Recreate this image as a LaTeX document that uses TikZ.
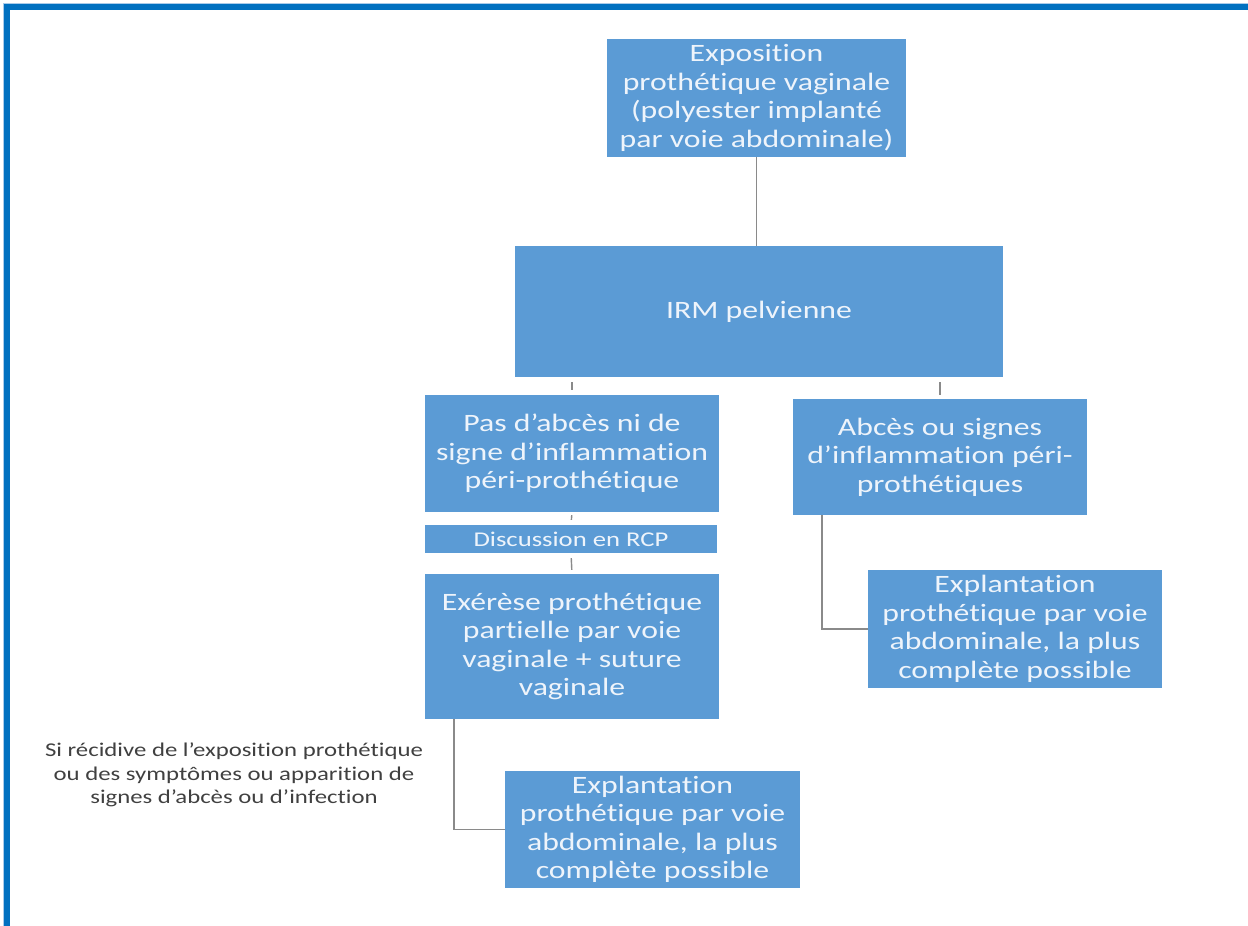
\documentclass[tikz,border=0pt]{standalone}
\usepackage{fontspec}
\setmainfont{Carlito}[FakeStretch=1.27, Ligatures={NoCommon}]
\definecolor{boxblue}{HTML}{5B9BD5}
\definecolor{frameblue}{HTML}{0070C0}
\definecolor{framelight}{HTML}{A9CBEA}
\definecolor{boxtext}{HTML}{EEF4FB}
\definecolor{linkgray}{HTML}{8A8A8A}
\definecolor{notegray}{HTML}{404040}
\tikzset{
  flowbox/.style={rectangle, fill=boxblue, text=boxtext, align=center, inner sep=0pt,
    font=\fontsize{25}{28.5}\selectfont},
  smallbox/.style={flowbox, font=\fontsize{21}{23}\selectfont},
  link/.style={draw=linkgray, line width=1.4pt},
  notetext/.style={align=center, text=notegray, inner sep=0pt, font=\fontsize{19.5}{23.5}\selectfont}
}
\begin{document}
\begin{tikzpicture}[x=1pt,y=-1pt]
\useasboundingbox (0,0) rectangle (1248,926);
% frame
\fill[framelight] (3,3) rectangle (1248,10);
\fill[framelight] (3,3) rectangle (10,926);
\fill[frameblue] (4,4) rectangle (1248,9.5);
\fill[frameblue] (4,4) rectangle (9.5,926);

\node[flowbox, minimum width=299pt, minimum height=118pt] (b1) at (756.5,98)
  {Exposition\\prothétique vaginale\\(polyester implanté\\par voie abdominale)};
\node[flowbox, minimum width=488pt, minimum height=131pt] (irm) at (759,311.5)
  {IRM pelvienne};
\node[flowbox, minimum width=294pt, minimum height=117pt] (pas) at (572,453.5)
  {Pas d’abcès ni de\\signe d’inflammation\\péri-prothétique};
\node[smallbox, minimum width=292pt, minimum height=28pt] (disc) at (571,539)
  {Discussion en RCP};
\node[flowbox, minimum width=294pt, minimum height=145pt] (exe) at (572,646.5)
  {Exérèse prothétique\\partielle par voie\\vaginale + suture\\vaginale};
\node[flowbox, minimum width=294pt, minimum height=116pt] (abc) at (940,457)
  {Abcès ou signes\\d’inflammation péri-\\prothétiques};
\node[flowbox, minimum width=294pt, minimum height=118pt] (expR) at (1015,629)
  {Explantation\\prothétique par voie\\abdominale, la plus\\complète possible};
\node[flowbox, minimum width=295pt, minimum height=117pt] (expL) at (652.5,829.5)
  {Explantation\\prothétique par voie\\abdominale, la plus\\complète possible};
\node[notetext] (note) at (234,775)
  {Si récidive de l’exposition prothétique\\ou des symptômes ou apparition de\\signes d’abcès ou d’infection};

% connectors
\draw[link] (b1.south) -- (b1.south |- irm.north);
\draw[link, shorten >=5pt, shorten <=5pt] (pas.north |- irm.south) -- (pas.north);
\draw[link, shorten >=4pt, shorten <=5pt] (abc.north |- irm.south) -- (abc.north);
\draw[link, shorten >=5pt, shorten <=3pt] (pas.south) -- (disc.north);
\draw[link, shorten >=4pt, shorten <=5pt] (disc.south) -- (exe.north);
\coordinate (abcL) at ([xshift=29pt]abc.south west);
\coordinate (exeL) at ([xshift=29pt]exe.south west);
\draw[link] (abcL) |- (expR.west);
\draw[link] (exeL) |- (expL.west);
\end{tikzpicture}
\end{document}
